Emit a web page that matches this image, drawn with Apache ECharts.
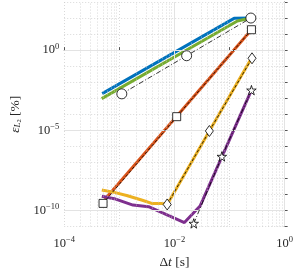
<!DOCTYPE html>
<html><head><meta charset="utf-8">
<script src="https://cdn.jsdelivr.net/npm/echarts@6/dist/echarts.min.js"></script>
<style>html,body{margin:0;padding:0;background:#fff}#c{width:296px;height:274px}</style>
</head><body><div id="c"></div>
<script>
// ---- data (actual values: dt [s], error [%]) ----
const blueX = [4.9e-4, 0.121, 0.244];
const blueY = [1.95e-3, 96, 100];
const greenX = [4.8e-4, 0.139, 0.244];
const greenY = [9.5e-4, 66, 100];
const orangeX = [5.5e-4, 0.25];
const orangeY = [5.0e-10, 18.7];
const yellowX = [4.82e-4, 8.1e-4, 1.36e-3, 2.62e-3, 3.87e-3, 6.1e-3, 7.4e-3, 0.0431, 0.25];
const yellowY = [1.9e-9, 1.36e-9, 8.7e-10, 4.4e-10, 2.8e-10, 2.8e-10, 2.4e-10, 9.1e-6, 0.31];
const purpleX = [4.82e-4, 8.1e-4, 1.77e-3, 3.4e-3, 0.0152, 0.0292, 0.0726, 0.25];
const purpleY = [7.9e-10, 5.5e-10, 2.2e-10, 1.75e-10, 1.8e-11, 1.9e-10, 2.2e-7, 3.2e-3];
const circleX = [1/900, 1/60, 0.244];
const circleY = [1.88e-3, 0.447, 100];
const squareX = [5.07e-4, 0.011, 0.25];
const squareY = [2.8e-10, 7.1e-5, 18.7];
const diamondX = [7.4e-3, 0.0431, 0.256];
const diamondY = [2.4e-10, 9.1e-6, 0.31];
const starX = [0.02245, 0.0726, 0.25];
const starY = [1.58e-11, 2.36e-7, 3.2e-3];
const xMajorTicks = [-4, -2, 0];      // exponents labelled on x
const yMajorTicks = [-10, -5, 0];     // exponents labelled on y
const xRange = [-4, 0];
const yRange = [-11, 3];

const L = Math.log10;
const pts = (xs, ys) => xs.map((x, i) => [L(x), L(ys[i])]);
const SERIF = 'Liberation Serif';
const TXT = '#262626';

// minor x grid positions (2..9 x 10^d)
const xMinor = [];
for (let d = xRange[0]; d < xRange[1]; d++) for (let k = 2; k <= 9; k++) xMinor.push(d + L(k));

const starPath = 'path://M50,0 L61,35 L98,35 L68,57 L79,91 L50,70 L21,91 L32,57 L2,35 L39,35 Z';

function sup(v) {
  const s = v < 0 ? '\u2212' + (-v) : String(v);
  return '{b|10}{s|' + s + '}';
}
const rich = {
  b: {fontFamily: SERIF, fontSize: 12.5, color: TXT},
  s: {fontFamily: SERIF, fontSize: 8.5, color: TXT, verticalAlign: 'top', padding: [0, 0, 7, 0]}
};

function thick(data, color) {
  return {type: 'line', data, symbol: 'none', lineStyle: {color, width: 3}, z: 3, silent: true};
}
function marked(data, symbol, size, dash) {
  return {type: 'line', data, symbol, symbolSize: size, showSymbol: true, clip: false,
    lineStyle: {color: '#000', width: 0.8, type: dash},
    itemStyle: {color: '#fff', borderColor: '#000', borderWidth: 0.8}, z: 5, silent: true};
}

const chart = echarts.init(document.getElementById('c'), null, {renderer: 'canvas'});
chart.setOption({
  animation: false,
  backgroundColor: '#fff',
  grid: {left: 51.5, right: 9, top: 2, bottom: 36.3, containLabel: false},
  xAxis: {
    type: 'value', min: xRange[0], max: xRange[1], interval: 1,
    axisLine: {lineStyle: {color: '#555', width: 1}},
    axisTick: {inside: true, length: 3, lineStyle: {color: '#555'}},
    axisLabel: {margin: 9, rich, formatter: v => xMajorTicks.includes(v) ? sup(v) : ''},
    splitLine: {show: true, lineStyle: {color: '#c8c8c8', type: [1, 2], width: 0.7}},
    name: '{n|\u0394}{i|t} {n|[s]}', nameLocation: 'middle', nameGap: 28,
    nameTextStyle: {rich: {n: {fontFamily: SERIF, fontSize: 13.5, color: TXT},
      i: {fontFamily: SERIF, fontSize: 13.5, fontStyle: 'italic', color: TXT}}}
  },
  yAxis: {
    type: 'value', min: yRange[0], max: yRange[1], interval: 1,
    axisLine: {lineStyle: {color: '#555', width: 1}},
    axisTick: {inside: true, length: 3, lineStyle: {color: '#555'}},
    axisLabel: {margin: 5, rich, formatter: v => yMajorTicks.includes(v) ? sup(v) : ''},
    splitLine: {show: true, lineStyle: {color: '#c8c8c8', type: [1, 2], width: 0.7}},
    name: '{i|\u03b5}{sub|L}{sub2|2} {n|[%]}', nameLocation: 'middle', nameGap: 41, nameRotate: 90,
    nameTextStyle: {rich: {
      n: {fontFamily: SERIF, fontSize: 13.5, color: TXT},
      i: {fontFamily: SERIF, fontSize: 13.5, fontStyle: 'italic', color: TXT},
      sub: {fontFamily: SERIF, fontSize: 9, fontStyle: 'italic', color: TXT, verticalAlign: 'bottom', padding: [6, 0, 0, 0]},
      sub2: {fontFamily: SERIF, fontSize: 6.5, color: TXT, verticalAlign: 'bottom', padding: [8, 0, 0, 0]}
    }}
  },
  series: [
    {type: 'scatter', data: [], silent: true, z: 1,
      markLine: {silent: true, symbol: ['none', 'none'], label: {show: false}, animation: false,
        lineStyle: {color: '#c8c8c8', type: [1, 2], width: 0.7},
        data: xMinor.map(v => ({xAxis: v}))}},
    {type: 'scatter', data: [], silent: true, z: 1,
      markLine: {silent: true, symbol: ['none', 'none'], label: {show: false}, animation: false,
        lineStyle: {color: '#e3e3e3', type: 'solid', width: 1},
        data: xMajorTicks.filter(v => v > xRange[0]).map(v => ({xAxis: v}))
          .concat(yMajorTicks.map(v => ({yAxis: v})))}},
    thick(pts(blueX, blueY), '#0072BD'),
    thick(pts(greenX, greenY), '#77AC30'),
    thick(pts(orangeX, orangeY), '#D95319'),
    thick(pts(yellowX, yellowY), '#EDB120'),
    thick(pts(purpleX, purpleY), '#7E2F8E'),
    marked(pts(circleX, circleY), 'circle', 10, [5, 2, 1, 2]),
    marked(pts(squareX, squareY), 'rect', 8, [3, 2]),
    marked(pts(diamondX, diamondY), 'diamond', [8, 11], [3, 2]),
    marked(pts(starX, starY), starPath, 9.5, [5, 2, 1, 2])
  ]
});
</script></body></html>
